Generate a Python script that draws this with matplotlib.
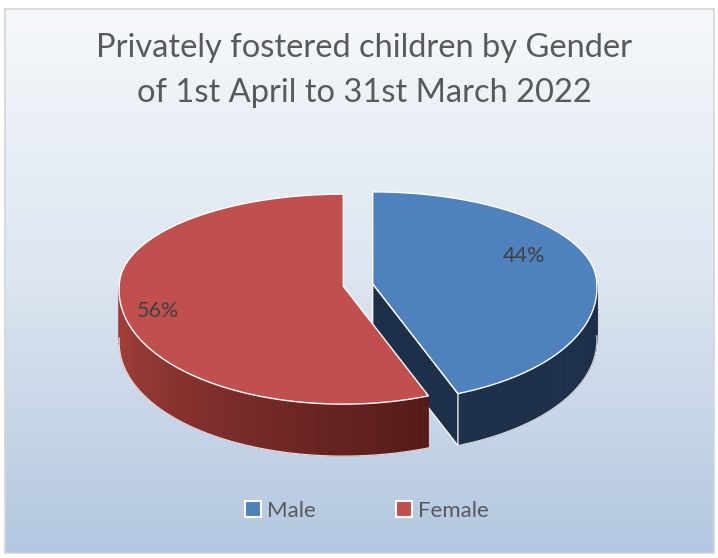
import matplotlib.pyplot as plt
import numpy as np
from matplotlib.patches import Polygon, Rectangle
from matplotlib.colors import LinearSegmentedColormap, to_rgb

# chart data
labels = ["Male", "Female"]
shares = [44, 56]
title_lines = ["Privately fostered children by Gender",
               "of 1st April to 31st March 2022"]

top_colors = ["#4F81BD", "#C0504D"]
side_light = ["#1F3352", "#A8423E"]
side_dark = ["#1E3049", "#4E1715"]
text_color = "#595959"
font = "Lato"

# layout in pixel units (figure is 718 x 558)
W, H = 718, 558
cx, cy = 358, 285          # pie centre before exploding
rx_back, rx_front = 224, 232
ry_back, ry_front = 92, 118  # far half is squashed by perspective
depth = 52
explode = 15
label_xy = [(524, 256), (158, 311)]


def proj(theta, r, c, dz=0.0):
    t = np.radians(theta)
    s = np.sin(t)
    ry = np.where(s > 0, ry_back, ry_front)
    rx = np.where(s > 0, rx_back, rx_back + (rx_front - rx_back) * np.abs(s))
    x = c[0] + rx * r * np.cos(t)
    y = c[1] - ry * r * s + dz
    return np.column_stack([np.atleast_1d(x), np.atleast_1d(y)])


fig = plt.figure(figsize=(W / 100, H / 100), dpi=100)
ax = fig.add_axes([0, 0, 1, 1])
ax.set_xlim(0, W)
ax.set_ylim(H, 0)
ax.axis("off")

# chart area with vertical gradient
bg = LinearSegmentedColormap.from_list("bg", ["#F6F8FB", "#DCE5F0", "#B3C7E1"])
grad = np.linspace(0, 1, 256).reshape(-1, 1)
ax.imshow(grad, cmap=bg, extent=(5, 714, 553, 9), aspect="auto", zorder=0)
ax.add_patch(Rectangle((5, 9), 709, 544, fill=False, ec="#D4D4D4", lw=1.2, zorder=1))

# slice angles: start at 12 o'clock, go clockwise
total = sum(shares)
starts = []
a = 90.0
for v in shares:
    starts.append((a, a - 360.0 * v / total))
    a -= 360.0 * v / total

z = 2
for i, (a0, a1) in enumerate(starts):
    mid = (a0 + a1) / 2
    c = (cx + explode * np.cos(np.radians(mid)),
         cy - explode * 0.4 * np.sin(np.radians(mid)))
    hi, lo = max(a0, a1), min(a0, a1)

    # outer wall: only the front half (sin < 0) is visible
    wall = []
    for k in range(-2, 2):
        w0, w1 = max(lo, 180 + 360 * k), min(hi, 360 + 360 * k)
        if w1 > w0:
            wall.append((w0, w1))
    c0, c1 = np.array(to_rgb(side_light[i])), np.array(to_rgb(side_dark[i]))
    for w0, w1 in wall:
        th = np.linspace(w0, w1, 80)
        for j in range(len(th) - 1):
            f = ((th[j] - 180) % 360) / 120.0
            f = min(max(f, 0), 1)
            col = c0 + (c1 - c0) * f
            quad = np.vstack([proj(th[j:j + 2], 1, c),
                              proj(th[j:j + 2][::-1], 1, c, depth)])
            ax.add_patch(Polygon(quad, closed=True, fc=col, ec=col, lw=0.6, zorder=z))
        ax.plot(*proj(th, 1, c, depth).T, color="white", lw=0.9, alpha=0.8, zorder=z + 1)

    # radial cut faces facing the viewer
    for e, sgn in ((hi, 1), (lo, -1)):
        n = np.radians(e + 90 * sgn)
        if np.sin(n) < -1e-6:
            face = np.vstack([proj(e, 0, c), proj(e, 1, c),
                              proj(e, 1, c, depth), proj(e, 0, c, depth)])
            ax.add_patch(Polygon(face, closed=True, fc=side_dark[i], ec="white",
                                 lw=0.9, zorder=z))

    # top face
    th = np.linspace(hi, lo, 200)
    top = np.vstack([proj(0, 0, c), proj(th, 1, c)])
    ax.add_patch(Polygon(top, closed=True, fc=top_colors[i], ec="white",
                         lw=1.0, joinstyle="miter", zorder=z + 2))

    ax.text(*label_xy[i], f"{shares[i]}%", ha="center", va="center",
            fontsize=15.5, color="#404040", family=font, zorder=z + 3)
    z += 5

for k, line in enumerate(title_lines):
    ax.text(W / 2 + 5, 48 + 45 * k, line, ha="center", va="center", fontsize=23.5,
            color=text_color, family=font, zorder=50)

handles = [Rectangle((0, 0), 1, 1, fc=col, ec="white", lw=1.5) for col in top_colors]
ax.legend(handles, labels, loc="center", bbox_to_anchor=(0.5 + 8 / W, 1 - 511 / H),
          ncol=2, frameon=False, handlelength=0.7, handleheight=0.7,
          handletextpad=0.3, columnspacing=3.6,
          prop={"family": font, "size": 16}, labelcolor=text_color)

fig.savefig("out.png", dpi=100)
